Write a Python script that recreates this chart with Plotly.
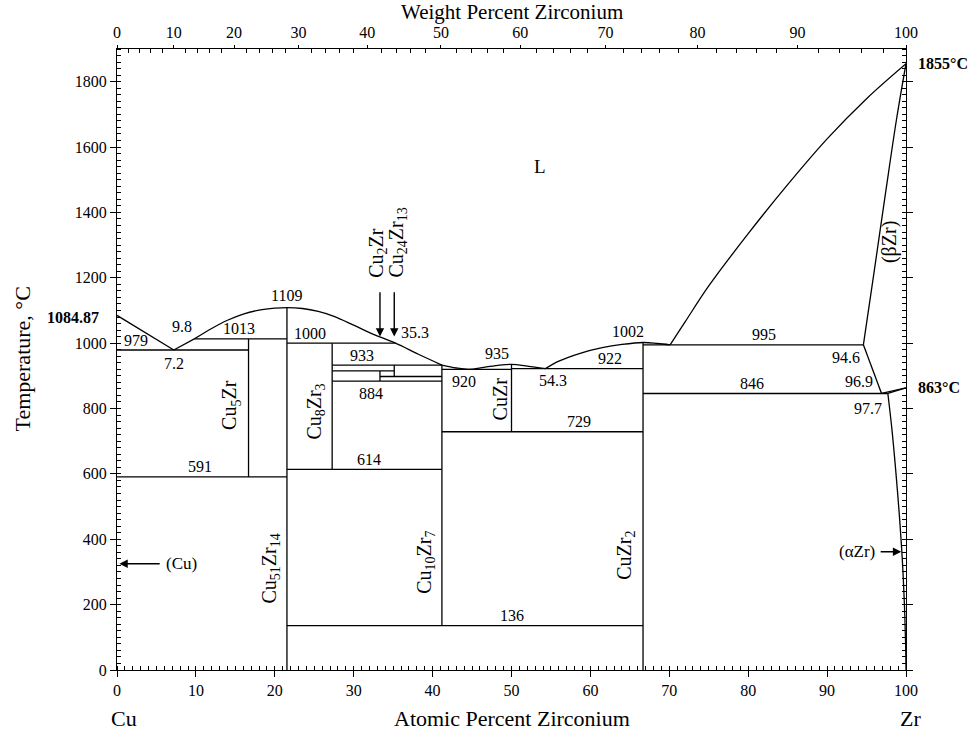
import plotly.graph_objects as go

# ---------------- data ----------------
M_CU, M_ZR = 63.546, 91.224
wt_tick_labels = [0, 10, 20, 30, 40, 50, 60, 70, 80, 90, 100]
at_ticks = [0, 10, 20, 30, 40, 50, 60, 70, 80, 90, 100]
temp_ticks = [0, 200, 400, 600, 800, 1000, 1200, 1400, 1600, 1800]

# compound compositions (at.% Zr)
c_Cu5Zr, c_Cu51Zr14, c_Cu8Zr3 = 16.67, 21.54, 27.27
c_Cu2Zr, c_Cu24Zr13, c_Cu10Zr7 = 33.33, 35.14, 41.18
c_CuZr, c_CuZr2 = 50.0, 66.67

# liquidus / solidus / solvus curves (at.% Zr, °C)
liq1_x = [0, 7.2]
liq1_t = [1084.87, 979]
liq2_x = [7.2, 9.8, 12, 14, 16, 18, 20, 21.54, 23.5, 25.5, 27.5, 30, 32.5, 35.3, 38.2, 41.18]
liq2_t = [979, 1013, 1045, 1070, 1089, 1101, 1107, 1109, 1106, 1097, 1082, 1055, 1027, 1000, 966, 933]
liq3_x = [41.18, 43, 44.6, 46.5, 48.5, 50, 52, 54.3]
liq3_t = [933, 924, 920, 926, 933, 935, 930, 922]
liq4_x = [54.3, 56, 58.7, 61.5, 64, 66.67, 68.5, 70.1]
liq4_t = [922, 945, 969, 986, 996, 1002, 999, 995]
liq5_x = [70.1, 72, 75, 80, 85, 90, 95, 100]
liq5_t = [995, 1065, 1175, 1335, 1485, 1625, 1748, 1855]
sol_x = [94.6, 96.0, 97.5, 98.8, 100]
sol_t = [995, 1225, 1475, 1685, 1855]
bsolv_x = [94.6, 96.9]
bsolv_t = [995, 846]
trans1_x = [96.9, 100]
trans1_t = [846, 863]
trans2_x = [97.7, 100]
trans2_t = [846, 863]
asolv_x = [97.7, 98.2, 98.7, 99.2, 99.55, 99.8, 99.95, 100]
asolv_t = [846, 740, 610, 460, 330, 200, 80, 0]

# invariant (horizontal) lines: (T, x_start, x_end)
invariants = [
    (979, 0, c_Cu5Zr), (1013, 9.8, c_Cu51Zr14), (591, 0, c_Cu51Zr14),
    (1000, c_Cu51Zr14, 35.3), (933, c_Cu8Zr3, c_Cu10Zr7), (915, c_Cu8Zr3, c_Cu24Zr13),
    (898, c_Cu2Zr, c_Cu10Zr7), (884, c_Cu8Zr3, c_Cu10Zr7), (614, c_Cu51Zr14, c_Cu10Zr7),
    (920, c_Cu10Zr7, c_CuZr), (922, c_CuZr, c_CuZr2), (729, c_Cu10Zr7, c_CuZr2),
    (136, c_Cu51Zr14, c_CuZr2), (995, c_CuZr2, 94.6), (846, c_CuZr2, 97.7),
]
# compound (vertical) lines: (x, T_low, T_high)
compounds = [
    (c_Cu5Zr, 591, 1013), (c_Cu51Zr14, 0, 1109), (c_Cu8Zr3, 614, 1000),
    (c_Cu2Zr, 884, 915), (c_Cu24Zr13, 898, 933), (c_Cu10Zr7, 136, 933),
    (c_CuZr, 729, 935), (c_CuZr2, 0, 1002),
]

# text labels: (text, x, T, yshift)
value_labels = [
    ("979", 2.4, 979, 10), ("7.2", 7.2, 979, -13), ("9.8", 8.3, 1030, 7),
    ("1013", 15.5, 1013, 10), ("1109", 21.54, 1109, 12), ("591", 10.5, 591, 10),
    ("1000", 24.4, 1000, 10), ("35.3", 37.8, 1000, 11), ("933", 31.0, 933, 10),
    ("884", 32.2, 884, -12), ("614", 32.0, 614, 10), ("920", 44.0, 920, -12),
    ("935", 48.2, 935, 11), ("54.3", 55.2, 922, -12), ("922", 62.5, 922, 10),
    ("1002", 64.8, 1002, 11), ("729", 58.5, 729, 10), ("136", 50.0, 136, 10),
    ("995", 82.0, 995, 10), ("846", 80.5, 846, 10), ("94.6", 92.4, 955, 0),
    ("96.9", 94.1, 846, 12), ("97.7", 95.2, 846, -15),
]
phase_labels_rot = [
    ("Cu<sub>5</sub>Zr", 14.4, 810), ("Cu<sub>51</sub>Zr<sub>14</sub>", 19.5, 310),
    ("Cu<sub>8</sub>Zr<sub>3</sub>", 25.2, 790), ("Cu<sub>10</sub>Zr<sub>7</sub>", 39.0, 330),
    ("CuZr", 48.5, 830), ("CuZr<sub>2</sub>", 64.4, 350), ("(βZr)", 98.0, 1310),
]
arrow_labels_rot = [
    ("Cu<sub>2</sub>Zr", 33.0, 1195), ("Cu<sub>24</sub>Zr<sub>13</sub>", 35.5, 1195),
]

FONT = "Liberation Serif, Times New Roman, serif"


def wt_to_at(w):
    if w <= 0:
        return 0.0
    if w >= 100:
        return 100.0
    nz = w / M_ZR
    nc = (100 - w) / M_CU
    return 100 * nz / (nz + nc)


fig = go.Figure()
LINE = dict(color="black", width=1.3)


def add_line(xs, ts, shape="linear"):
    fig.add_trace(go.Scatter(x=xs, y=ts, mode="lines", line=dict(LINE, shape=shape),
                             hoverinfo="skip", showlegend=False))


add_line(liq1_x, liq1_t)
add_line(liq2_x[:2], liq2_t[:2])
add_line(liq2_x[1:], liq2_t[1:], "spline")
add_line(liq3_x, liq3_t, "spline")
add_line(liq4_x, liq4_t, "spline")
add_line(liq5_x, liq5_t, "spline")
add_line(sol_x, sol_t, "spline")
add_line(bsolv_x, bsolv_t)
add_line(trans1_x, trans1_t)
add_line(trans2_x, trans2_t)
add_line(asolv_x, asolv_t, "spline")

hx, hy = [], []
for t, x0, x1 in invariants:
    hx += [x0, x1, None]
    hy += [t, t, None]
add_line(hx, hy)
vx, vy = [], []
for x, t0, t1 in compounds:
    vx += [x, x, None]
    vy += [t0, t1, None]
add_line(vx, vy)

# invisible trace for the top (weight percent) axis
fig.add_trace(go.Scatter(x=[0, 100], y=[0, 0], xaxis="x2", mode="lines",
                         line=dict(width=0), hoverinfo="skip", showlegend=False))

ann = []
for text, x, t, ys in value_labels:
    ann.append(dict(text=text, x=x, y=t, xref="x", yref="y", showarrow=False,
                    yshift=ys, font=dict(size=16)))
for text, x, t in phase_labels_rot:
    ann.append(dict(text=text, x=x, y=t, xref="x", yref="y", showarrow=False,
                    textangle=-90, font=dict(size=20)))
for text, x, t in arrow_labels_rot:
    ann.append(dict(text=text, x=x, y=t, xref="x", yref="y", showarrow=False,
                    yanchor="bottom", textangle=-90, font=dict(size=20)))
ann.append(dict(text="L", x=53.6, y=1540, xref="x", yref="y", showarrow=False,
                font=dict(size=19)))
# arrows
for xh, th, xt, tt in [(c_Cu2Zr, 1020, c_Cu2Zr, 1160), (c_Cu24Zr13, 1020, c_Cu24Zr13, 1160),
                       (0.3, 325, 5.6, 325), (99.4, 362, 96.6, 362)]:
    ann.append(dict(text="", x=xh, y=th, ax=xt, ay=tt, xref="x", yref="y",
                    axref="x", ayref="y", showarrow=True, arrowhead=2,
                    arrowsize=1.2, arrowwidth=1.4, arrowcolor="black"))
ann.append(dict(text="(Cu)", x=5.9, y=325, xref="x", yref="y", xanchor="left",
                showarrow=False, font=dict(size=17)))
ann.append(dict(text="(αZr)", x=96.3, y=362, xref="x", yref="y", xanchor="right",
                showarrow=False, font=dict(size=17)))
# bold temperature marks outside the frame
ann.append(dict(text="<b>1084.87</b>", x=0, y=1078, xref="paper", yref="y",
                xanchor="right", xshift=-16, showarrow=False, font=dict(size=16)))
ann.append(dict(text="<b>1855°C</b>", x=1, y=1855, xref="paper", yref="y",
                xanchor="left", xshift=10, showarrow=False, font=dict(size=16)))
ann.append(dict(text="<b>863°C</b>", x=1, y=863, xref="paper", yref="y",
                xanchor="left", xshift=10, showarrow=False, font=dict(size=16)))
# titles
ann.append(dict(text="Atomic Percent Zirconium", x=0.5, y=0, xref="paper", yref="paper",
                yanchor="middle", yshift=-48, showarrow=False, font=dict(size=22)))
ann.append(dict(text="Cu", x=0, y=0, xref="paper", yref="paper", xanchor="left",
                yanchor="middle", yshift=-48, xshift=-8, showarrow=False, font=dict(size=22)))
ann.append(dict(text="Zr", x=1, y=0, xref="paper", yref="paper", xanchor="center",
                yanchor="middle", yshift=-48, xshift=4, showarrow=False, font=dict(size=22)))
ann.append(dict(text="Weight Percent Zirconium", x=0.5, y=1, xref="paper", yref="paper",
                yanchor="middle", yshift=37, showarrow=False, font=dict(size=21)))
ann.append(dict(text="Temperature, °C", x=0, y=0.5, xref="paper", yref="paper",
                xanchor="center", yanchor="middle", xshift=-95, textangle=-90,
                showarrow=False, font=dict(size=22)))

wt_pos = [wt_to_at(w) for w in wt_tick_labels]
wt_minor = [wt_to_at(w) for w in range(0, 101, 2) if w % 10]

axis_common = dict(showline=True, linecolor="black", linewidth=1.3, showgrid=False,
                   zeroline=False, ticks="outside", ticklen=6, tickwidth=1.3,
                   tickcolor="black", tickfont=dict(size=16, color="black"))

fig.update_layout(
    width=972, height=731, paper_bgcolor="white", plot_bgcolor="white",
    margin=dict(l=117, r=66, t=49, b=61),
    font=dict(family=FONT, color="black"),
    showlegend=False,
    annotations=ann,
    xaxis=dict(axis_common, range=[0, 100], tickmode="array", tickvals=at_ticks,
               minor=dict(dtick=1, ticks="inside", ticklen=4, tickcolor="black")),
    xaxis2=dict(axis_common, range=[0, 100], overlaying="x", side="top",
                tickmode="array", tickvals=wt_pos, ticktext=[str(w) for w in wt_tick_labels],
                ticklen=3,
                minor=dict(tickmode="array", tickvals=wt_minor, ticks="inside",
                           ticklen=4, tickcolor="black")),
    yaxis=dict(axis_common, range=[0, 1900], tickmode="array", tickvals=temp_ticks,
               mirror="ticks",
               minor=dict(dtick=20, ticks="inside", ticklen=4, tickcolor="black")),
)

fig.write_html("out.html", config={"displayModeBar": False},
               post_script="document.body.style.margin='0';document.body.style.overflow='hidden';")
